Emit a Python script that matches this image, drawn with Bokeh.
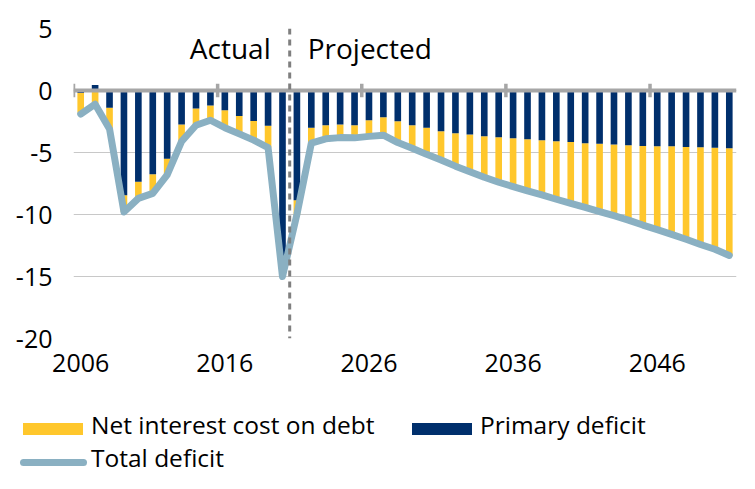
import numpy as np
from bokeh.plotting import figure
from bokeh.layouts import column
from bokeh.models import ColumnDataSource, Range1d, FixedTicker, Span, Label, Div
from bokeh.embed import file_html
from bokeh.resources import INLINE

# ---------------- data (% of GDP) ----------------
years = list(range(2006, 2052))
last_actual_year = 2020

primary_deficit = [
    -0.2, 0.45, -1.4, -8.45, -7.35, -6.75, -5.5, -2.75, -1.45, -1.2,
    -1.6, -2.05, -2.45, -2.85, -13.4, -8.85, -3.0, -2.8, -2.75, -2.8,
    -2.4, -2.15, -2.48, -2.8, -3.0, -3.28, -3.45, -3.55, -3.68, -3.78,
    -3.85, -3.93, -4.01, -4.09, -4.15, -4.25, -4.3, -4.36, -4.41, -4.47,
    -4.49, -4.5, -4.56, -4.57, -4.62, -4.65]

net_interest = [
    -1.6, -1.1, -1.65, -1.35, -1.35, -1.5, -1.3, -1.35, -1.35, -1.2,
    -1.4, -1.45, -1.55, -1.75, -1.6, -1.15, -1.25, -1.1, -1.05, -1.02,
    -1.3, -1.45, -1.72, -1.85, -2.15, -2.32, -2.65, -3.0, -3.32, -3.62,
    -3.9, -4.17, -4.41, -4.68, -4.95, -5.17, -5.47, -5.74, -6.04, -6.38,
    -6.73, -7.1, -7.44, -7.85, -8.18, -8.65]

total_deficit = [
    -1.9, -1.1, -3.1, -9.8, -8.7, -8.3, -6.8, -4.1, -2.8, -2.4,
    -3.0, -3.5, -4.0, -4.6, -15.0, -10.0, -4.25, -3.9, -3.8, -3.82,
    -3.7, -3.6, -4.2, -4.65, -5.15, -5.6, -6.1, -6.55, -7.0, -7.4,
    -7.75, -8.1, -8.42, -8.77, -9.1, -9.42, -9.77, -10.1, -10.45, -10.85,
    -11.22, -11.6, -12.0, -12.42, -12.8, -13.3]

y_ticks = [5, 0, -5, -10, -15, -20]
y_tick_labels = ["5", "0", "-5", "-10", "-15", "-20"]
x_tick_years = [2006, 2016, 2026, 2036, 2046]
series_names = ["Net interest cost on debt", "Primary deficit", "Total deficit"]

# ---------------- styles ----------------
YELLOW = "#FFC72C"
NAVY = "#002F6C"
LINE = "#8AB0C2"
AXIS_GRAY = "#A6A6A6"
GRID = "#C8C8C8"
FONT = "Open Sans"

prim = np.array(primary_deficit)
intr = np.array(net_interest)
navy_top = np.maximum(prim, 0)
navy_bot = np.minimum(prim, 0)
yel_top = np.minimum(prim, 0)
yel_bot = yel_top + intr

src = ColumnDataSource(dict(x=years, navy_top=navy_top, navy_bot=navy_bot,
                            yel_top=yel_top, yel_bot=yel_bot, total=total_deficit))

p = figure(width=739, height=390, output_backend="svg", toolbar_location=None,
           x_range=Range1d(years[0] - 0.5, years[-1] + 0.5),
           y_range=Range1d(min(y_ticks), max(y_ticks)),
           min_border_left=73, min_border_right=3, min_border_top=28,
           min_border_bottom=52)
p.outline_line_color = None

p.vbar(x="x", top="yel_top", bottom="yel_bot", width=0.46, source=src,
       fill_color=YELLOW, line_color=None)
p.vbar(x="x", top="navy_top", bottom="navy_bot", width=0.46, source=src,
       fill_color=NAVY, line_color=None)
p.line(x="x", y="total", source=src, line_color=LINE, line_width=7,
       line_join="round", line_cap="round")

# axes
for ax in (p.xaxis, p.yaxis):
    ax.axis_line_color = None
    ax.major_tick_line_color = None
    ax.minor_tick_line_color = None
    ax.major_tick_out = 0
    ax.major_tick_in = 0
    ax.minor_tick_out = 0
    ax.minor_tick_in = 0
    ax.major_label_text_font = FONT
    ax.major_label_text_font_size = "25px"
    ax.major_label_text_color = "black"

p.xaxis.ticker = FixedTicker(ticks=x_tick_years)
p.xaxis.major_label_standoff = 15
p.yaxis.ticker = FixedTicker(ticks=y_ticks)
p.yaxis.major_label_overrides = {t: l for t, l in zip(y_ticks, y_tick_labels)}
p.yaxis.major_label_standoff = 21

p.xgrid.grid_line_color = None
p.ygrid.grid_line_color = GRID
p.ygrid.grid_line_width = 1

# zero axis line with category tick marks
p.add_layout(Span(location=0, dimension="width", line_color=AXIS_GRAY, line_width=4))
bounds = [years[0] - 0.5 + 10 * k for k in range(len(x_tick_years))]
p.segment(x0=bounds, x1=bounds, y0=[-0.55] * len(bounds), y1=[0.55] * len(bounds),
          line_color=AXIS_GRAY, line_width=3.5)

# actual / projected divider
split = last_actual_year + 0.5
p.add_layout(Span(location=split, dimension="height", line_color="#7F7F7F",
                  line_width=3, line_dash="6 5"))
p.add_layout(Label(x=split, y=max(y_ticks), x_offset=-19, y_offset=-19, text="Actual",
                   text_align="right", text_baseline="middle", text_font=FONT,
                   text_font_size="28px", text_color="black"))
p.add_layout(Label(x=split, y=max(y_ticks), x_offset=18, y_offset=-19, text="Projected",
                   text_align="left", text_baseline="middle", text_font=FONT,
                   text_font_size="28px", text_color="black"))

# ---------------- legend (below the chart) ----------------
txt = ("position:absolute;font-family:'Open Sans';font-size:24.5px;line-height:34px;"
       "color:#000;white-space:nowrap;margin:0;padding:0;")
legend_html = (
    '<div style="position:relative;width:739px;height:99px;margin:0;padding:0;">'
    f'<div style="position:absolute;left:23px;top:33px;width:60px;height:12px;background:{YELLOW};"></div>'
    f'<div style="{txt}left:91px;top:18px;">{series_names[0]}</div>'
    f'<div style="position:absolute;left:412px;top:33px;width:60px;height:12px;background:{NAVY};"></div>'
    f'<div style="{txt}left:480px;top:18px;">{series_names[1]}</div>'
    f'<div style="position:absolute;left:20px;top:69px;width:67px;height:7px;border-radius:3.5px;background:{LINE};"></div>'
    f'<div style="{txt}left:91px;top:51px;">{series_names[2]}</div>'
    '</div>'
)
legend_div = Div(text=legend_html, width=739, height=99, margin=(0, 0, 0, 0))

layout = column(p, legend_div, spacing=0)
open("out.html", "w").write(file_html(layout, INLINE))
